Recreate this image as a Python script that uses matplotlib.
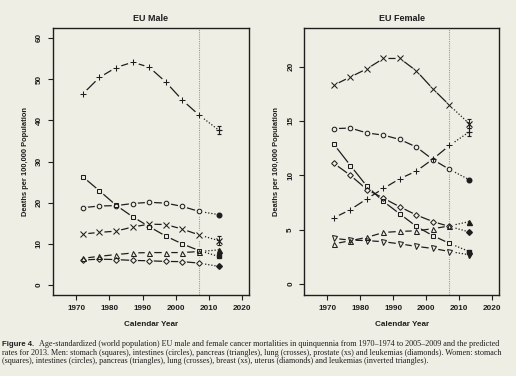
import matplotlib
matplotlib.use("Agg")
import matplotlib.pyplot as plt

BG = "#efeee5"
INK = "#1e1e1e"

years = [1972, 1977, 1982, 1987, 1992, 1997, 2002, 2007]
pred_year = 2013

# EU male, observed rates + 2013 prediction (last value)
male_stomach = [26.3, 22.9, 19.4, 16.6, 14.2, 11.9, 10.0, 8.4, 6.95]
male_intestines = [18.8, 19.2, 19.3, 19.8, 20.1, 19.9, 19.1, 17.9, 17.1]
male_pancreas = [6.5, 7.0, 7.4, 7.8, 7.9, 7.9, 7.9, 8.15, 8.55]
male_lung = [46.4, 50.4, 52.8, 54.1, 52.9, 49.3, 44.9, 41.3, 37.6]
male_prostate = [12.4, 12.8, 13.1, 14.1, 14.8, 14.7, 13.6, 12.2, 10.8]
male_leukemias = [6.1, 6.3, 6.2, 6.0, 5.9, 5.75, 5.7, 5.35, 4.55]

# EU female
female_stomach = [12.85, 10.9, 9.0, 7.6, 6.45, 5.3, 4.45, 3.75, 3.0]
female_intestines = [14.3, 14.35, 13.9, 13.7, 13.3, 12.6, 11.45, 10.55, 9.6]
female_pancreas = [3.7, 4.0, 4.3, 4.75, 4.85, 4.9, 5.1, 5.35, 5.75]
female_lung = [6.1, 6.85, 7.85, 8.8, 9.7, 10.4, 11.5, 12.75, 14.0]
female_breast = [18.3, 19.05, 19.8, 20.75, 20.75, 19.6, 17.95, 16.45, 14.75]
female_uterus = [11.1, 10.0, 8.7, 7.9, 7.1, 6.35, 5.75, 5.3, 4.8]
female_leukemias = [4.2, 4.05, 4.0, 3.9, 3.7, 3.47, 3.28, 3.0, 2.7]

male_series = [
    (male_stomach, "s"), (male_intestines, "o"), (male_pancreas, "^"),
    (male_lung, "+"), (male_prostate, "x"), (male_leukemias, "D"),
]
female_series = [
    (female_stomach, "s"), (female_intestines, "o"), (female_pancreas, "^"),
    (female_lung, "+"), (female_breast, "x"), (female_uterus, "D"),
    (female_leukemias, "v"),
]

plt.rcParams["font.family"] = ["Liberation Sans", "DejaVu Sans"]

fig = plt.figure(figsize=(5.16, 3.76), dpi=100, facecolor=BG)


def draw_series(ax, vals, m, ysc):
    obs, pred = vals[:-1], vals[-1]
    ms = {"s": 3.4, "o": 3.3, "^": 3.6, "+": 4.5, "x": 3.8, "D": 2.9, "v": 3.6}[m]
    ax.plot(years, obs, color=INK, lw=0.9, zorder=2)
    ax.plot([years[-1], pred_year], [obs[-1], pred], color=INK, lw=0.9,
            ls=(0, (1, 1.5)), zorder=2)
    # type="b" style gaps around the symbols
    ax.plot(years, obs, ls="none", marker="o", ms=ms + 2.4, mfc=BG, mec=BG, zorder=3)
    ax.plot(years, obs, ls="none", marker=m, ms=ms, mfc="none", mec=INK,
            mew=0.75, zorder=4)
    if m in ("+", "x"):
        ax.errorbar([pred_year], [pred], yerr=[0.016 * ysc], fmt=m, ms=ms,
                    color=INK, mew=0.85, elinewidth=0.7, capsize=1.6, zorder=4)
    else:
        ax.plot([pred_year], [pred], ls="none", marker=m, ms=ms, mfc=INK,
                mec=INK, zorder=4)


def setup(ax, title, ylim, yticks):
    ax.set_facecolor(BG)
    ax.set_xlim(1962.9, 2022.1)
    ax.set_ylim(*ylim)
    ax.axvline(2007, color="#9a9a9a", lw=0.8, ls=(0, (1, 1)), zorder=1)
    ax.set_xticks([1970, 1980, 1990, 2000, 2010, 2020])
    ax.set_yticks(yticks)
    ax.tick_params(labelsize=5.9, length=3.5, width=0.8, pad=3.5, colors=INK)
    for lab in ax.get_xticklabels() + ax.get_yticklabels():
        lab.set_fontweight("bold")
    for lab in ax.get_yticklabels():
        lab.set_rotation(90)
        lab.set_va("center")
    for sp in ax.spines.values():
        sp.set_linewidth(1.0)
        sp.set_color(INK)
    ax.set_title(title, fontsize=6.5, fontweight="bold", pad=5, color=INK)
    ax.set_xlabel("Calendar Year", fontsize=5.9, fontweight="bold",
                  labelpad=7, color=INK)
    ax.set_ylabel("Deaths per 100,000 Population", fontsize=5.4,
                  fontweight="bold", labelpad=5, color=INK)


ax1 = fig.add_axes([0.102, 0.2154, 0.3806, 0.7101])
setup(ax1, "EU Male", (-2.4, 62.4), [0, 10, 20, 30, 40, 50, 60])
for vals, m in male_series:
    draw_series(ax1, vals, m, 65)

ax2 = fig.add_axes([0.589, 0.2154, 0.3786, 0.7101])
setup(ax2, "EU Female", (-1.0, 23.55), [0, 5, 10, 15, 20])
for vals, m in female_series:
    draw_series(ax2, vals, m, 24.5)

caption = [
    "Age-standardized (world population) EU male and female cancer mortalities in quinquennia from 1970\u20131974 to 2005\u20132009 and the predicted",
    "rates for 2013. Men: stomach (squares), intestines (circles), pancreas (triangles), lung (crosses), prostate (xs) and leukemias (diamonds). Women: stomach",
    "(squares), intestines (circles), pancreas (triangles), lung (crosses), breast (xs), uterus (diamonds) and leukemias (inverted triangles).",
]
cap_fs = 5.9
x0 = 2 / 516
fig_lab = fig.text(x0, 1 - 344.5 / 376, "Figure 4.", fontsize=cap_fs - 0.3,
                   fontweight="bold", va="center", color=INK)
renderer = fig.canvas.get_renderer()
x_after = fig_lab.get_window_extent(renderer).x1 / 516 + 5 / 516
fig.text(x_after, 1 - 344.5 / 376, caption[0], fontsize=cap_fs,
         family="Liberation Serif", va="center", color=INK)
fig.text(x0, 1 - 352.8 / 376, caption[1], fontsize=cap_fs,
         family="Liberation Serif", va="center", color=INK)
fig.text(x0, 1 - 361.1 / 376, caption[2], fontsize=cap_fs,
         family="Liberation Serif", va="center", color=INK)

fig.savefig("out.png", dpi=100, facecolor=BG)
